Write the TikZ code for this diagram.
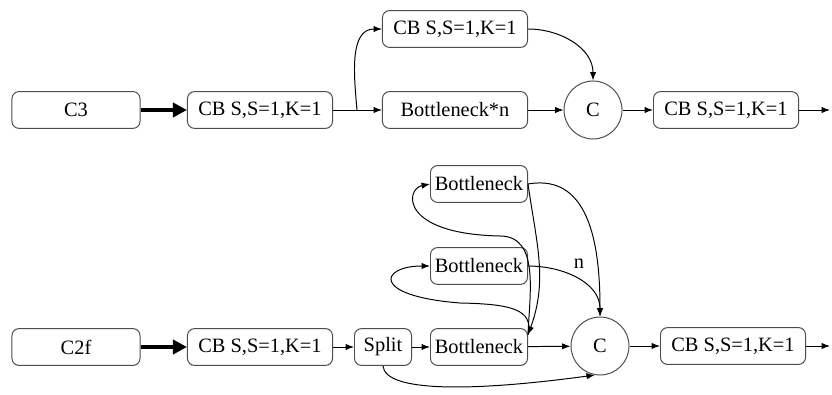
\documentclass[tikz,border=0pt]{standalone}
\usepackage{fontspec}
\setmainfont{Liberation Serif}
\usetikzlibrary{arrows.meta}

\begin{document}
\begin{tikzpicture}[x=0.025cm,y=0.025cm,
  box/.style={rectangle,rounded corners=5pt,draw=black!70,line width=0.7pt,minimum height=0.92cm,inner sep=2pt,font=\fontsize{14.5}{16}\selectfont},
  cbbox/.style={box,minimum width=3.625cm},
  headbox/.style={box,minimum width=3.2cm},
  bnbox/.style={box,minimum width=2.425cm},
  catnode/.style={circle,draw=black!70,line width=0.7pt,minimum size=1.45cm,inner sep=0pt,font=\fontsize{14.5}{16}\selectfont},
  link/.style={line width=0.7pt,-{Latex[length=6pt,width=4.5pt]}},
  fat/.style={line width=3pt,-{Triangle[length=10pt,width=10pt]}}]
\useasboundingbox (0,0) rectangle (832,394);
% C3 row
\node [headbox] (c3) at (76,284) {C3};
\node [cbbox] (cb1) at (260,284) {CB S,S=1,K=1};
\node [cbbox] (cb2) at (455,365) {CB S,S=1,K=1};
\node [cbbox] (bnn) at (455,284) {Bottleneck*n};
\node [catnode] (cat1) at (593,284) {C};
\node [cbbox] (cb3) at (726,284) {CB S,S=1,K=1};
\coordinate (fork) at (357,284);
\coordinate (out1) at (830,284);
% C2f row
\node [headbox] (c2f) at (76,47) {C2f};
\node [cbbox] (cb4) at (260,47) {CB S,S=1,K=1};
\node [box,minimum width=1.425cm] (split) at (383,47) {Split};
\node [bnbox] (bn1) at (479,47) {Bottleneck};
\node [bnbox] (bn2) at (479,128) {Bottleneck};
\node [bnbox] (bn3) at (479,210) {Bottleneck};
\node [catnode] (cat2) at (600,48) {C};
\node [cbbox] (cb5) at (733,48) {CB S,S=1,K=1};
\node [font=\fontsize{14.5}{16}\selectfont,inner sep=0pt] (rep) at (579,130) {n};
\coordinate (out2) at (830,48);

\draw [fat] (c3) -- (cb1);
\draw [link] (cb1) -- (bnn);
\draw [link] (fork) to[out=95,in=180] (cb2.west);
\draw [link] (bnn) -- (cat1);
\draw [link] (cb2.east) to[out=0,in=90] (cat1.north);
\draw [link] (cat1) -- (cb3);
\draw [link] (cb3) -- (out1);

\draw [fat] (c2f) -- (cb4);
\draw [link] (cb4) -- (split);
\draw [link] (split) -- (bn1);
\draw [link] (bn1) -- (cat2);
\draw [link] (cat2) -- (cb5);
\draw [link] (cb5) -- (out2);
\draw [link] (split.south) .. controls (385,2) and (470,2) .. (cat2.-100);
\draw [link] (bn3.east) to[out=-82,in=70] (bn1.14);
\draw [link] (bn1.14) .. controls (534,85) and (510,90) .. (460,91)
  .. controls (370,98) and (380,128) .. (bn2.west);
\draw [link] (bn1.14) to[out=88,in=0] (500,158)
  .. controls (400,160) and (405,205) .. (bn3.west);
\draw [link] (bn3.east) to[out=10,in=90,looseness=1.1] (cat2.north);
\draw [link] (bn2.east) to[out=0,in=90] (cat2.north);
\end{tikzpicture}
\end{document}
